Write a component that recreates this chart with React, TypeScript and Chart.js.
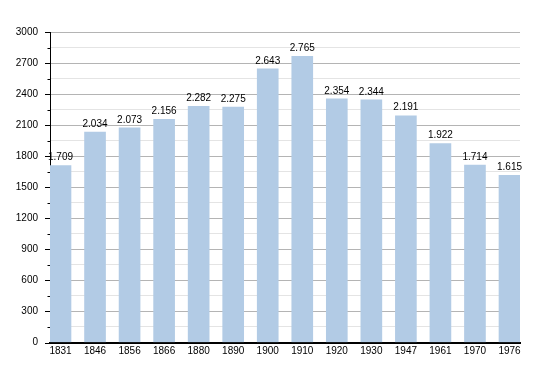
import React, { useEffect, useRef } from "react";
import { Chart, registerables } from "chart.js";

Chart.register(...registerables);

const years = ["1831", "1846", "1856", "1866", "1880", "1890", "1900", "1910", "1920", "1930", "1947", "1961", "1970", "1976"];
const population = [1709, 2034, 2073, 2156, 2282, 2275, 2643, 2765, 2354, 2344, 2191, 1922, 1714, 1615];
const yMax = 3000;
const yStep = 150;
const yLabelStep = 300;

const FONT = "'Liberation Sans', Arial, sans-serif";

function fmt(v: number): string {
  const th = Math.floor(v / 1000);
  const rest = v % 1000;
  return th > 0 ? th + "." + String(rest).padStart(3, "0") : String(v);
}

const labelPlugin = {
  id: "valueLabels",
  afterDatasetsDraw(chart: any) {
    const ctx = chart.ctx;
    const meta = chart.getDatasetMeta(0);
    ctx.save();
    ctx.font = `10px ${FONT}`;
    ctx.fillStyle = "#000";
    ctx.textAlign = "center";
    ctx.textBaseline = "bottom";
    meta.data.forEach((bar: any, i: number) => {
      ctx.fillText(fmt(population[i]), bar.x, bar.y - 3);
    });
    ctx.restore();
  },
  afterDraw(chart: any) {
    const ctx = chart.ctx;
    const y = chart.scales.y;
    const left = chart.chartArea.left;
    ctx.save();
    ctx.strokeStyle = "#000";
    ctx.lineWidth = 1;
    y.ticks.forEach((t: any) => {
      const py = Math.round(y.getPixelForValue(t.value)) + 0.5;
      const len = t.value % yLabelStep === 0 ? 5 : 2.5;
      ctx.beginPath();
      ctx.moveTo(left - len, py);
      ctx.lineTo(left, py);
      ctx.stroke();
    });
    ctx.restore();
  },
};

export default function App() {
  const ref = useRef<HTMLCanvasElement | null>(null);
  useEffect(() => {
    document.body.style.margin = "0";
    if (!ref.current) return;
    const chart = new Chart(ref.current, {
      type: "bar",
      data: {
        datasets: [
          {
            data: population.map((v, i) => ({ x: i, y: v })),
            backgroundColor: "#b2cbe5",
            borderWidth: 0,
            barThickness: 21,
          },
        ],
      },
      options: {
        animation: false,
        responsive: true,
        maintainAspectRatio: false,
        layout: { padding: { top: 32, right: 30, left: 0, bottom: 0 } },
        plugins: { legend: { display: false }, tooltip: { enabled: false } },
        scales: {
          x: {
            type: "linear",
            offset: false,
            min: -0.304,
            max: 13.304,
            afterFit: (s: any) => {
              s.height = 30.5;
            },
            grid: { display: false, drawTicks: false },
            border: { display: true, color: "#000", width: 2 },
            ticks: {
              stepSize: 1,
              includeBounds: false,
              autoSkip: false,
              maxRotation: 0,
              padding: 3,
              color: "#000",
              font: { family: FONT, size: 10 },
              callback: (v: any) => {
                const n = Math.round(Number(v));
                return Math.abs(n - Number(v)) < 1e-6 && years[n] ? years[n] : null;
              },
            },
          },
          y: {
            min: 0,
            max: yMax,
            afterFit: (s: any) => {
              s.width = 50;
            },
            grid: {
              drawTicks: false,
              color: (c: any) => (c.tick && c.tick.value % yLabelStep === 0 ? "#b4b4b4" : "#e4e4e4"),
              lineWidth: 1,
            },
            border: { display: true, color: "#000", width: 1 },
            ticks: {
              stepSize: yStep,
              autoSkip: false,
              padding: 12,
              color: "#000",
              font: { family: FONT, size: 10 },
              callback: (v: any) => (Number(v) % yLabelStep === 0 ? String(v) : ""),
            },
          },
        },
      },
      plugins: [labelPlugin],
    });
    return () => chart.destroy();
  }, []);
  return (
    <div style={{ width: 550, height: 373, position: "relative", background: "#fff" }}>
      <canvas ref={ref} />
    </div>
  );
}
